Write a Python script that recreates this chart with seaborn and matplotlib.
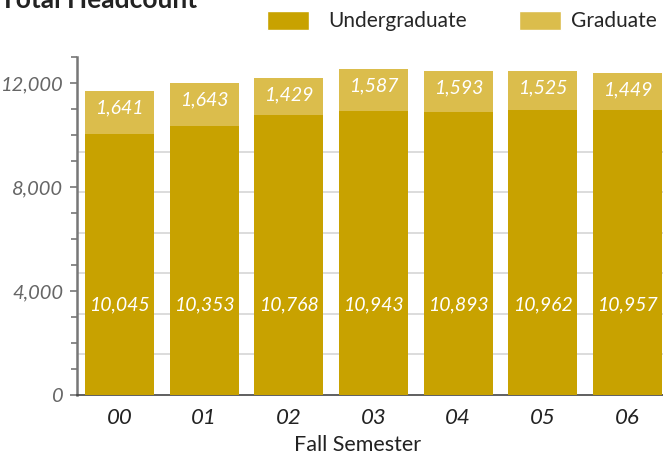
import numpy as np
import pandas as pd
import seaborn as sns
import matplotlib.pyplot as plt
from matplotlib.patches import Patch
from matplotlib.ticker import FixedLocator

semesters = ["00", "01", "02", "03", "04", "05", "06"]
undergrad = [10045, 10353, 10768, 10943, 10893, 10962, 10957]
graduate = [1641, 1643, 1429, 1587, 1593, 1525, 1449]

ug_color = "#C8A200"
gr_color = "#DBBD4C"

sns.set_theme(style="white")
plt.rcParams["font.family"] = ["Lato", "DejaVu Sans"]

df = pd.DataFrame({"semester": semesters, "undergrad": undergrad, "graduate": graduate})
df["total"] = df["undergrad"] + df["graduate"]

fig = plt.figure(figsize=(6.63, 4.57), dpi=100)
ax = fig.add_axes([77 / 663, 62 / 457, 593 / 663, 395 / 457])

# light guide lines behind the bars
for v in np.arange(1, 7) * 1560:
    ax.axhline(v, color="#d9d9d9", lw=1.3, zorder=0)

sns.barplot(data=df, x="semester", y="total", color=gr_color, width=0.815,
            saturation=1, linewidth=0, ax=ax, zorder=2)
sns.barplot(data=df, x="semester", y="undergrad", color=ug_color, width=0.815,
            saturation=1, linewidth=0, ax=ax, zorder=3)

for i, row in df.iterrows():
    ax.text(i, 3450, f"{row['undergrad']:,}", ha="center", va="center",
            color="white", style="italic", fontsize=14, zorder=4)
    ax.text(i, row["total"] - 650, f"{row['graduate']:,}", ha="center", va="center",
            color="white", style="italic", fontsize=14, zorder=4)

ax.set_xlim(-0.5, 6.5)
ax.set_ylim(0, 15200)
ax.yaxis.set_major_locator(FixedLocator([0, 4000, 8000, 12000]))
ax.yaxis.set_minor_locator(FixedLocator(np.arange(0, 14000, 1000)))
ax.set_yticklabels(["0", "4,000", "8,000", "12,000"], style="italic",
                   color="#666666", fontsize=14.5)
ax.xaxis.set_minor_locator(FixedLocator(np.arange(-0.5, 7, 1)))
ax.set_xticklabels(semesters, style="italic", color="#222222", fontsize=16)
ax.tick_params(axis="x", which="major", length=0, pad=9)
ax.tick_params(axis="x", which="minor", length=6, width=1, color="#444444", direction="out")
ax.tick_params(axis="y", which="major", length=5, width=1.2, color="#777777", direction="out", left=True, pad=5)
ax.tick_params(axis="y", which="minor", length=4, width=1.2, color="#777777", direction="out", left=True)

ax.set_xlabel("Fall Semester", fontsize=15.5, color="#222222")
ax.xaxis.set_label_coords((358 - 77) / 593, -40 / 395)
ax.set_ylabel("")
for s in ["top", "right"]:
    ax.spines[s].set_visible(False)
ax.spines["left"].set_color("#777777")
ax.spines["left"].set_linewidth(1.8)
ax.spines["left"].set_bounds(0, 13000)
ax.spines["bottom"].set_color("#444444")
ax.spines["bottom"].set_linewidth(1.2)

# two separate legend entries, placed like the reference
leg_kw = dict(frameon=False, fontsize=15, handlelength=2.0, handleheight=1.05,
              borderaxespad=0, borderpad=0)
leg1 = fig.legend(handles=[Patch(facecolor=ug_color, label="Undergraduate")],
                  loc="center left", bbox_to_anchor=(267 / 663, 1 - 21 / 457),
                  handletextpad=0.95, **leg_kw)
fig.legend(handles=[Patch(facecolor=gr_color, label="Graduate")],
           loc="center left", bbox_to_anchor=(519 / 663, 1 - 21 / 457),
           handletextpad=0.5, **leg_kw)

fig.text(0.0, 1.0, "Total Headcount", fontsize=19, fontweight="bold",
         color="#222222", ha="left", va="center")

fig.savefig("out.png", dpi=100)
